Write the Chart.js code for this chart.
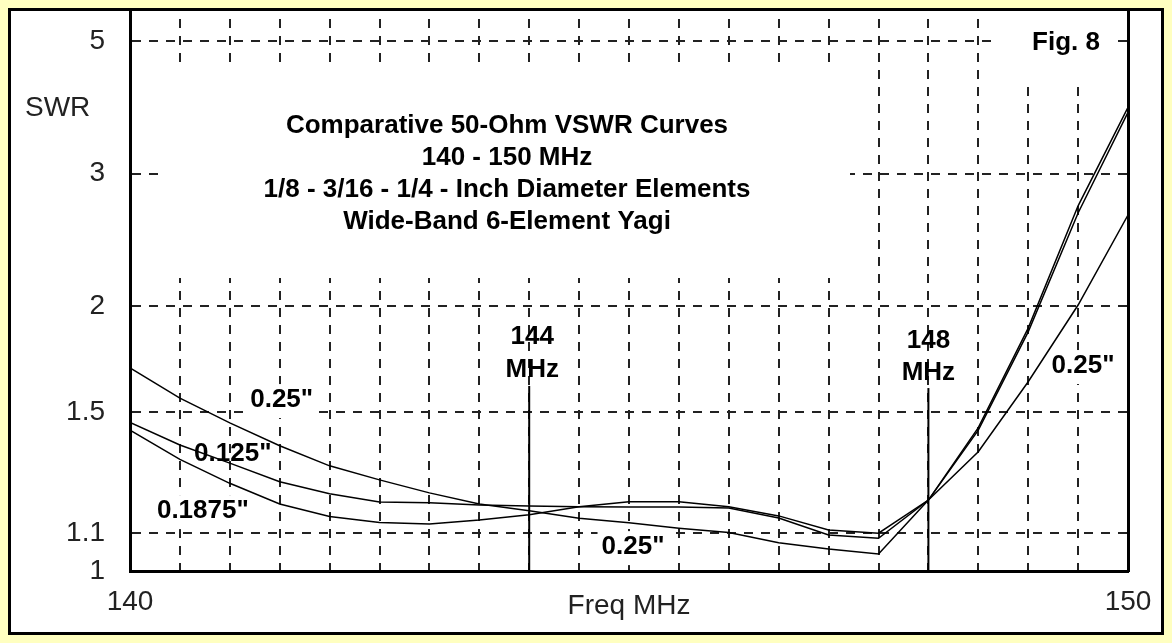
<!DOCTYPE html>
<html>
<head>
<meta charset="utf-8">
<script src="https://cdn.jsdelivr.net/npm/chart.js@4.4.1/dist/chart.umd.min.js"></script>
<style>
  html, body { margin: 0; padding: 0; background: #ffffc0; }
  #frame { position: absolute; left: 8px; top: 8px; width: 1150px; height: 621px; border: 3px solid #000; background: #fff; }
  canvas { display: block; }
</style>
</head>
<body>
<div id="frame"><canvas id="swr" width="1150" height="621"></canvas></div>
<script>
// frequency points, MHz
const freqs = [140, 140.5, 141, 141.5, 142, 142.5, 143, 143.5, 144, 144.5, 145,
               145.5, 146, 146.5, 147, 147.5, 148, 148.5, 149, 149.5, 150];
// SWR
const swr125 = [1.460, 1.377, 1.314, 1.253, 1.215, 1.190, 1.188, 1.181, 1.178, 1.176, 1.175,
                1.175, 1.172, 1.143, 1.095, 1.086, 1.196, 1.431, 1.861, 2.639, 3.73];
const swr1875 = [1.431, 1.327, 1.248, 1.184, 1.147, 1.130, 1.126, 1.137, 1.152, 1.176, 1.191,
                 1.191, 1.176, 1.149, 1.109, 1.100, 1.196, 1.44, 1.88, 2.70, 3.80];
const swr25 = [1.687, 1.556, 1.458, 1.374, 1.305, 1.259, 1.218, 1.184, 1.164, 1.142, 1.129,
               1.114, 1.102, 1.074, 1.057, 1.044, 1.196, 1.353, 1.625, 2.006, 2.622];
const yTicks = [1, 1.1, 1.5, 2, 3, 5];
const xTickLabels = [140, 150];
const markerFreqs = [144, 148];
const markerTops = [1.607, 1.598];
const swrTop = 5.77;

const titleLines = ['Comparative 50-Ohm VSWR Curves', '140 - 150 MHz',
                    '1/8 - 3/16 - 1/4 - Inch Diameter Elements', 'Wide-Band 6-Element Yagi'];
// curve notes: text, freq, swr, white box behind
const notes = [
  ['0.25"', 141.52, 1.548, true],
  ['0.125"', 141.03, 1.345, false],
  ['0.1875"', 140.73, 1.163, true],
  ['0.25"', 145.04, 1.062, true],
  ['0.25"', 149.55, 1.695, true],
  ['144', 144.03, 1.834, false],
  ['MHz', 144.03, 1.677, false],
  ['148', 148.0, 1.814, false],
  ['MHz', 148.0, 1.663, false]
];

// SWR plotted on a reflection coefficient scale
function rho(s) { return (s - 1) / (s + 1); }
function swrOf(r) { return (1 + r) / (1 - r); }

const FONT = '"Liberation Sans", Arial, sans-serif';

function curve(vals) {
  return {
    data: vals.map((s, i) => ({x: freqs[i], y: rho(s)})),
    borderColor: '#000', borderWidth: 1.5, pointRadius: 0, tension: 0, fill: false
  };
}
function marker(i) {
  return {
    data: [{x: markerFreqs[i], y: 0}, {x: markerFreqs[i], y: rho(markerTops[i])}],
    borderColor: '#000', borderWidth: 2, pointRadius: 0, fill: false
  };
}

function boxText(ctx, text, x, y, box) {
  if (box) {
    const w = ctx.measureText(text).width;
    ctx.fillStyle = '#fff';
    ctx.fillRect(x - w / 2 - 4, y - 16, w + 8, 34);
  }
  ctx.fillStyle = '#000';
  ctx.fillText(text, x, y);
}

const notesPlugin = {
  id: 'notes',
  beforeDatasetsDraw(chart) {
    const {ctx, scales: {x, y}} = chart;
    ctx.save();
    ctx.textAlign = 'center';
    ctx.textBaseline = 'middle';
    // title block and fig label cover the grid
    ctx.fillStyle = '#fff';
    ctx.fillRect(154, 59, 685, 208);
    ctx.fillRect(986, 0, 121, 72);
    ctx.font = 'bold 26px ' + FONT;
    ctx.fillStyle = '#000';
    titleLines.forEach((t, i) => ctx.fillText(t, 496, 115 + i * 32));
    ctx.fillText('Fig. 8', 1055, 32);
    notes.forEach(n => boxText(ctx, n[0], x.getPixelForValue(n[1]), y.getPixelForValue(rho(n[2])), n[3]));
    ctx.font = '28px ' + FONT;
    ctx.fillStyle = '#222';
    ctx.fillText('Freq MHz', (x.left + x.right) / 2, 595);
    ctx.textAlign = 'left';
    ctx.fillText('SWR', 14, 97);
    ctx.restore();
  }
};

function makeChart() {
  const ctx = document.getElementById('swr').getContext('2d');
  return new Chart(ctx, {
    type: 'line',
    plugins: [notesPlugin],
    data: {
      datasets: [curve(swr125), curve(swr1875), curve(swr25), marker(0), marker(1)]
    },
    options: {
      responsive: false,
      animation: false,
      layout: {padding: {left: 0, right: 33, top: 0, bottom: 0}},
      plugins: {legend: {display: false}, tooltip: {enabled: false}},
      scales: {
        x: {
          type: 'linear', min: 140, max: 150,
          ticks: {
            stepSize: 0.5, autoSkip: false, maxRotation: 0, padding: 14,
            color: '#222', font: {size: 28, family: FONT},
            callback: (v) => xTickLabels.includes(v) ? String(v) : ''
          },
          grid: {
            drawTicks: false, lineWidth: 2,
            color: (c) => (c.tick && (c.tick.value === 140 || c.tick.value === 150)) ? 'rgba(0,0,0,0)' : '#222'
          },
          border: {color: '#000', width: 3, dash: [9, 8], dashOffset: 9},
          afterFit: (s) => { s.height = 61; s.paddingLeft = 0; s.paddingRight = 0; }
        },
        y: {
          type: 'linear', min: 0, max: rho(swrTop),
          afterBuildTicks: (s) => { s.ticks = yTicks.map(v => ({value: rho(v)})); },
          ticks: {
            padding: 25, color: '#222', font: {size: 28, family: FONT},
            callback: (v) => String(Math.round(swrOf(v) * 10) / 10)
          },
          grid: {
            drawTicks: false, lineWidth: 2,
            color: (c) => (c.tick && c.tick.value === 0) ? 'rgba(0,0,0,0)' : '#222'
          },
          border: {color: '#000', width: 3, dash: [9, 8]},
          afterFit: (s) => { s.width = 119; s.paddingTop = 0; s.paddingBottom = 0; }
        },
        y2: {
          type: 'linear', position: 'right', min: 0, max: rho(swrTop),
          ticks: {display: false},
          grid: {drawOnChartArea: false, drawTicks: false},
          border: {color: '#000', width: 3},
          afterFit: (s) => { s.width = 0; s.paddingTop = 0; s.paddingBottom = 0; }
        }
      }
    }
  });
}

makeChart();
</script>
</body>
</html>
